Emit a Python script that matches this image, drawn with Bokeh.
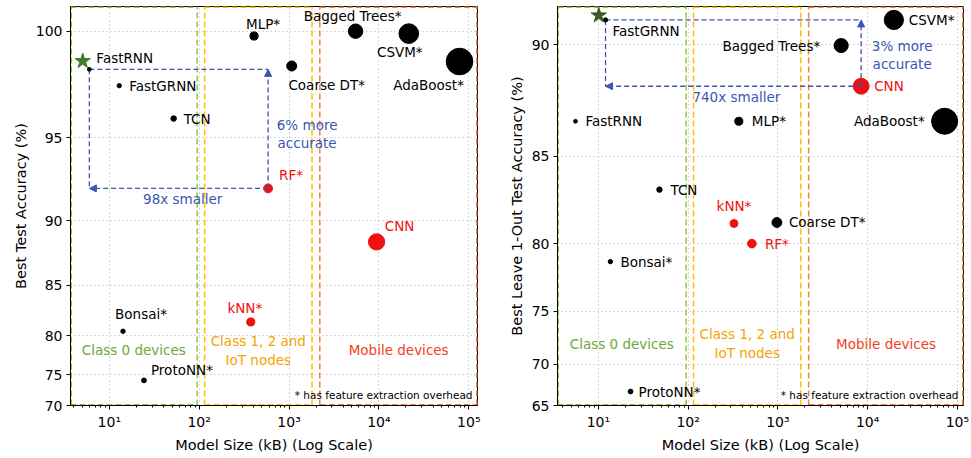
import numpy as np
from bokeh.plotting import figure
from bokeh.layouts import row
from bokeh.models import (Range1d, FixedTicker, CustomJSTickFormatter, ColumnDataSource,
                          Arrow, NormalHead)
from bokeh.core.properties import value
from bokeh.embed import file_html
from bokeh.resources import INLINE

# ---------------- data ----------------
# Left panel: best test accuracy
left_models = ["FastRNN", "FastGRNN", "TCN", "MLP*", "Bagged Trees*", "CSVM*", "AdaBoost*",
               "Coarse DT*", "RF*", "CNN", "kNN*", "Bonsai*", "ProtoNN*"]
left_size_kb = [6.0, 12.9, 52, 408, 5500, 21500, 78900, 1070, 585, 9420, 375, 14.2, 24.3]
left_acc = [98.35, 97.6, 96.0, 99.8, 100.0, 99.9, 98.7, 98.5, 92.1, 88.5, 81.5, 80.5, 74.2]
left_star_kb = [5.06]
left_star_acc = [98.72]
left_ours, left_baseline = "FastRNN", "RF*"
left_size_note, left_acc_note = "98x smaller", "6% more\naccurate"
left_yticks = [70, 75, 80, 85, 90, 95, 100]
left_ylim = [70, 101]
left_xlim = [3.7, 1.25e5]
left_region_label_y = 78.3

# Right panel: best leave-1-out test accuracy
right_models = ["FastGRNN", "CSVM*", "Bagged Trees*", "CNN", "FastRNN", "MLP*", "AdaBoost*",
                "TCN", "kNN*", "Coarse DT*", "RF*", "Bonsai*", "ProtoNN*"]
right_size_kb = [12.0, 19600, 5070, 8470, 5.55, 367, 72100, 47.9, 324, 975, 513, 13.6, 22.8]
right_acc = [90.95, 90.95, 89.96, 88.28, 86.71, 86.71, 86.71, 83.24, 81.27, 81.33, 80.0, 78.79, 66.84]
right_star_kb = [10.1]
right_star_acc = [91.12]
right_ours, right_baseline = "FastGRNN", "CNN"
right_size_note, right_acc_note = "740x smaller", "3% more\naccurate"
right_yticks = [65, 70, 75, 80, 85, 90]
right_ylim = [65, 91.45]
right_xlim = [3.5, 1.17e5]
right_region_label_y = 72.1

red_models = ["RF*", "CNN", "kNN*"]

xticks = [10, 100, 1000, 10000, 100000]
xtick_labels = ["10¹", "10²", "10³", "10⁴", "10⁵"]

# device classes (model size boundaries, kB)
region_names = ["Class 0 devices", "Class 1, 2 and\nIoT nodes", "Mobile devices"]
region_bounds = [(None, 95), (115, 1800), (2200, None)]
footnote = "* has feature extraction overhead"

# ---------------- styling ----------------
FONT = "DejaVu Sans"
BLUE = "#3d55b3"
RED = "#ee1111"
REGION_LINE = ["#8cc63f", "#ffc000", "#f08040"]
REGION_TEXT = ["#6ea83a", "#f5a300", "#f2401c"]

left_label_style = {
    "FastRNN": ("left", 7, -11), "FastGRNN": ("left", 10, 0), "TCN": ("left", 10, 0),
    "MLP*": ("center", 9, -12), "Bagged Trees*": ("center", -3, -15),
    "CSVM*": ("center", -9, 18), "AdaBoost*": ("center", -31, 23),
    "Coarse DT*": ("center", 35, 19), "RF*": ("left", 11, -13), "CNN": ("center", 23, -16),
    "kNN*": ("center", -6, -14), "Bonsai*": ("center", 18, -17), "ProtoNN*": ("left", 7, -10),
}
right_label_style = {
    "FastGRNN": ("left", 7, 11), "CSVM*": ("left", 15, 0), "Bagged Trees*": ("right", -21, 0),
    "CNN": ("left", 13, 0), "FastRNN": ("left", 10, 0), "MLP*": ("left", 13, 0),
    "AdaBoost*": ("right", -20, 0), "TCN": ("left", 11, 0), "kNN*": ("center", 0, -17),
    "Coarse DT*": ("left", 12, 0), "RF*": ("left", 13, 0), "Bonsai*": ("left", 10, 0),
    "ProtoNN*": ("left", 8, 0),
}

FMT_CODE = ("const i = tv.findIndex(t => Math.abs(t - tick) < 1e-6 * Math.abs(t));"
            " return i >= 0 ? tl[i] : '';")


def warp(a):
    # the y axis of the original uses an exponential (exp(y/20)) spacing
    return np.exp(np.asarray(a, dtype=float) / 20.0)


def make_panel(models, size_kb, acc, star_kb, star_acc, ours, base, size_note, acc_note,
               yticks, ylim, xlim, region_y, ylabel, styles, width, border_left, border_right,
               star_color, acc_note_dx, acc_note_dy, size_note_dx):
    ylo, yhi = float(warp(ylim[0])), float(warp(ylim[1]))
    p = figure(width=width, height=458, x_axis_type="log",
               x_range=Range1d(*xlim), y_range=Range1d(ylo, yhi),
               output_backend="svg", toolbar_location=None,
               min_border_left=border_left, min_border_right=border_right,
               min_border_top=6, min_border_bottom=53)
    p.background_fill_color = "white"
    p.border_fill_color = "white"
    p.outline_line_color = "black"
    p.outline_line_width = 1
    p.outline_line_alpha = 1

    # axes
    p.xaxis.ticker = FixedTicker(ticks=xticks,
                                 minor_ticks=[m * 10 ** e for e in range(0, 6) for m in range(2, 10)])
    p.xaxis.formatter = CustomJSTickFormatter(args=dict(tv=xticks, tl=xtick_labels), code=FMT_CODE)
    wt = [float(v) for v in warp(yticks)]
    p.yaxis.ticker = FixedTicker(ticks=wt, minor_ticks=[])
    p.yaxis.formatter = CustomJSTickFormatter(args=dict(tv=wt, tl=[str(t) for t in yticks]),
                                              code=FMT_CODE)
    for ax in (p.xaxis[0], p.yaxis[0]):
        ax.axis_line_color = "black"
        ax.major_tick_line_color = "black"
        ax.minor_tick_line_color = "black"
        ax.major_tick_out = 4
        ax.major_tick_in = 0
        ax.minor_tick_out = 2
        ax.minor_tick_in = 0
        ax.major_label_text_font = FONT
        ax.major_label_text_font_size = "14px"
        ax.major_label_text_color = "black"
        ax.major_label_standoff = 4
        ax.axis_label_text_font = FONT
        ax.axis_label_text_font_size = "14.5px"
        ax.axis_label_text_font_style = "normal"
        ax.axis_label_text_color = "black"
        ax.axis_label_standoff = 4
    p.yaxis.minor_tick_line_color = None
    p.xaxis.axis_label = "Model Size (kB) (Log Scale)"
    p.yaxis.axis_label = ylabel
    p.grid.grid_line_color = "#b0b0b0"
    p.grid.grid_line_dash = "1 3"
    p.grid.grid_line_width = 1

    # device-class regions: dashed boxes (edges on the frame drawn wider, half is clipped)
    lefts = [xlim[0] if b[0] is None else b[0] for b in region_bounds]
    rights = [xlim[1] if b[1] is None else b[1] for b in region_bounds]
    hx0, hx1, hy, hc = [], [], [], []
    for l, r, c in zip(lefts, rights, REGION_LINE):
        for yy in (ylo, yhi):
            hx0.append(l); hx1.append(r); hy.append(yy); hc.append(c)
    p.segment(x0=hx0, y0=hy, x1=hx1, y1=hy, line_color=hc, line_dash="6 3", line_width=3)
    vx, vc, vw = [], [], []
    for l, r, c in zip(lefts, rights, REGION_LINE):
        for xx in (l, r):
            vx.append(xx); vc.append(c)
            vw.append(3 if xx in (xlim[0], xlim[1]) else 1.5)
    p.segment(x0=vx, y0=[ylo] * len(vx), x1=vx, y1=[yhi] * len(vx), line_color=vc,
              line_dash="6 3", line_width=vw)
    mids = [float(np.sqrt(l * r)) for l, r in zip(lefts, rights)]
    p.text(x=mids, y=[float(warp(region_y))] * 3, text=region_names, text_color=REGION_TEXT,
           text_font=value(FONT), text_font_size="13.5px", text_align="center",
           text_baseline="middle", text_line_height=1.2)
    p.text(x=[xlim[1]], y=[ylo], text=[footnote], x_offset=-5, y_offset=-11,
           text_font=value(FONT), text_font_size="10.5px", text_align="right",
           text_baseline="middle", text_color="black")

    # comparison annotation
    oi, bi = models.index(ours), models.index(base)
    ox, oy = size_kb[oi], float(warp(acc[oi]))
    bx, by = size_kb[bi], float(warp(acc[bi]))
    p.segment(x0=[ox, ox], y0=[oy, oy], x1=[bx, ox], y1=[oy, by], line_color=BLUE,
              line_dash="5 3", line_width=1.3)
    for (xe, ye) in [(bx, oy), (ox, by)]:
        p.add_layout(Arrow(x_start=bx, y_start=by, x_end=xe, y_end=ye, line_color=BLUE,
                           line_dash="5 3", line_width=1.3,
                           end=NormalHead(size=7, fill_color=BLUE, line_color=BLUE)))
    p.text(x=[float(np.sqrt(ox * bx))], y=[by], text=[size_note], x_offset=size_note_dx, y_offset=11,
           text_font=value(FONT), text_font_size="13.5px", text_align="center",
           text_baseline="middle", text_color=BLUE)
    p.text(x=[bx], y=[(oy + by) / 2], text=[acc_note], x_offset=acc_note_dx, y_offset=acc_note_dy,
           text_font=value(FONT), text_font_size="13.5px", text_align="center",
           text_baseline="middle", text_color=BLUE, text_line_height=1.15)

    # points
    wy = [float(v) for v in warp(acc)]
    colors = [RED if m in red_models else "black" for m in models]
    sizes = [1.5 * s ** 0.25 + 1.5 for s in size_kb]
    p.scatter(x=size_kb, y=wy, size=sizes, fill_color=colors, line_color=colors)
    p.scatter(x=star_kb, y=[float(v) for v in warp(star_acc)], marker="star", size=16,
              fill_color=star_color, line_color=star_color)

    # point labels
    for align in ("left", "center", "right"):
        idx = [i for i, m in enumerate(models) if styles[m][0] == align]
        if not idx:
            continue
        src = ColumnDataSource(dict(
            x=[size_kb[i] for i in idx], y=[wy[i] for i in idx], t=[models[i] for i in idx],
            dx=[styles[models[i]][1] for i in idx], dy=[styles[models[i]][2] for i in idx],
            c=[colors[i] for i in idx]))
        p.text(x="x", y="y", text="t", x_offset="dx", y_offset="dy", text_color="c", source=src,
               text_font=value(FONT), text_font_size="13.5px", text_align=align,
               text_baseline="middle")
    return p


p1 = make_panel(left_models, left_size_kb, left_acc, left_star_kb, left_star_acc, left_ours,
                left_baseline, left_size_note, left_acc_note, left_yticks, left_ylim, left_xlim,
                left_region_label_y, "Best Test Accuracy (%)", left_label_style,
                width=497, border_left=70, border_right=20, star_color="#3f7d2c",
                acc_note_dx=39, acc_note_dy=5, size_note_dx=4)
p2 = make_panel(right_models, right_size_kb, right_acc, right_star_kb, right_star_acc, right_ours,
                right_baseline, right_size_note, right_acc_note, right_yticks, right_ylim, right_xlim,
                right_region_label_y, "Best Leave 1-Out Test Accuracy (%)", right_label_style,
                width=474, border_left=60, border_right=8, star_color="#3b5a20",
                acc_note_dx=41, acc_note_dy=2, size_note_dx=3)

layout = row(p1, p2)
open("out.html", "w").write(file_html(layout, INLINE))
